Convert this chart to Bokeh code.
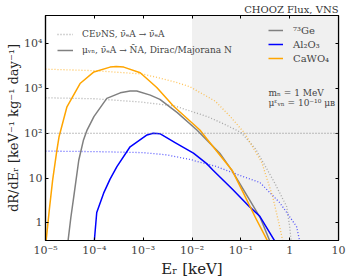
from bokeh.plotting import figure
from bokeh.models import (FixedTicker, LogAxis, BoxAnnotation, Span, Label, Legend,
                          LegendItem, CustomJSTickFormatter)
from bokeh.embed import file_html
from bokeh.resources import INLINE

# ---------------- data ----------------
# magnetic-moment (solid) curves: recoil energy [keV] and rate
E_ge_mu = [2.9e-5, 3.3e-5, 3.8e-5, 4.8e-5, 6.0e-5, 7.1e-5, 9.8e-5, 1.8e-4, 3.4e-4, 5.4e-4, 7.4e-4,
           1.4e-3, 2.2e-3, 5.0e-3, 1.26e-2, 2.0e-2, 3.7e-2, 6.5e-2, 0.15, 0.25, 0.39]
R_ge_mu = [0.4, 1.3, 3.9, 25, 71, 118, 235, 600, 800, 880, 880,
           710, 570, 290, 118, 71, 36, 15, 3.3, 1.3, 0.4]

E_al_mu = [1.0e-4, 1.12e-4, 1.55e-4, 2.1e-4, 2.9e-4, 5.4e-4, 1.2e-3, 1.6e-3, 2.2e-3, 4.5e-3,
           1.07e-2, 2.0e-2, 2.7e-2, 6.9e-2, 0.15, 0.245, 0.49]
R_al_mu = [0.4, 1.7, 4.6, 9.5, 18, 50, 92, 100, 98, 62,
           36, 21, 15, 5.5, 2.3, 1.4, 0.4]

E_ca_mu = [1.03e-5, 1.2e-5, 1.4e-5, 1.7e-5, 1.9e-5, 2.75e-5, 5.1e-5, 9.8e-5, 2.1e-4, 2.8e-4, 4.0e-4,
           8.7e-4, 1.9e-3, 4.2e-3, 1.45e-2, 2.1e-2, 6.6e-2, 0.11, 0.2, 0.35]
R_ca_mu = [0.4, 2.0, 9, 40, 85, 390, 1290, 2340, 3000, 3100, 3000,
           2250, 1050, 400, 118, 71, 15, 4.9, 1.3, 0.4]

# CEvNS (dotted) curves
E_ge_cev = [1e-5, 1e-4, 8.7e-4, 4.5e-3, 2.1e-2, 4.3e-2, 0.1, 0.2, 0.49, 0.87, 1.0, 1.07]
R_ge_cev = [620, 590, 500, 405, 234, 165, 105, 45, 7.9, 2.3, 0.83, 0.4]

E_al_cev = [1e-5, 1e-4, 1e-3, 3e-3, 9.1e-3, 3.2e-2, 9.5e-2, 0.245, 0.63, 1.38, 1.6]
R_al_cev = [40, 39, 37, 33, 26, 18, 11.5, 8, 2.8, 0.83, 0.4]

E_ca_cev = [1e-5, 1e-4, 1e-3, 4.5e-3, 9.1e-3, 3.0e-2, 6.0e-2, 0.12, 0.27, 0.45, 0.6, 0.72]
R_ca_cev = [2700, 2500, 2100, 1400, 1090, 520, 240, 100, 22, 3.8, 1.0, 0.4]

x_ticks = [1e-5, 1e-4, 1e-3, 1e-2, 1e-1, 1, 10]
x_tick_labels = ["10⁻⁵", "10⁻⁴", "10⁻³", "10⁻²", "10⁻¹", "1", "10"]
y_ticks = [1, 10, 100, 1000, 10000]
y_tick_labels = ["1", "10", "10²", "10³", "10⁴"]

materials = ["⁷³Ge", "Al₂O₃", "CaWO₄"]
mat_colors = ["#808080", "#0000ff", "#ffa500"]

# ---------------- figure ----------------
SERIF = "DejaVu Serif"
p = figure(width=349, height=280, x_axis_type="log", y_axis_type="log",
           x_range=(1e-5, 10), y_range=(0.404, 4.26e4),
           output_backend="svg", toolbar_location=None,
           min_border_left=45, min_border_right=11, min_border_top=15, min_border_bottom=39)
p.grid.visible = False
p.outline_line_color = "black"
p.outline_line_width = 1.2
p.background_fill_color = "white"

p.title.text = "CHOOZ Flux, VNS"
p.title.align = "right"
p.title.text_font = SERIF
p.title.text_font_size = "10px"
p.title.text_font_style = "normal"
p.title.text_color = "#333333"
p.title.standoff = 1

p.add_layout(BoxAnnotation(left=1e-2, fill_color="#f0f0f0", fill_alpha=1.0,
                           line_color=None, level="underlay"))
p.add_layout(Span(location=100, dimension="width", line_color="#808080",
                  line_dash="1 2", line_width=1.1))

fmt_code = """
let best = 0, bd = 1e9;
for (let i = 0; i < tks.length; i++) {
  const d = Math.abs(Math.log10(tks[i]) - Math.log10(tick));
  if (d < bd) { bd = d; best = i; }
}
return lbls[best];
"""
xfmt = CustomJSTickFormatter(args=dict(tks=x_ticks, lbls=x_tick_labels), code=fmt_code)
yfmt = CustomJSTickFormatter(args=dict(tks=y_ticks, lbls=y_tick_labels), code=fmt_code)

def style_axis(ax, ticks, fmt, show=True):
    ax.ticker = FixedTicker(ticks=ticks, minor_ticks=[])
    ax.major_tick_in = 3
    ax.major_tick_out = 0
    ax.major_tick_line_color = "black"
    ax.minor_tick_line_color = None
    ax.axis_line_color = "black"
    ax.axis_line_width = 1.2
    ax.formatter = fmt
    ax.major_label_text_font = SERIF
    ax.major_label_text_color = "#444444"
    ax.axis_label_text_font = SERIF
    ax.axis_label_text_font_style = "normal"
    ax.axis_label_text_color = "#222222"
    ax.axis_label_standoff = 0
    if show:
        ax.major_label_text_font_size = "11px"
        ax.major_label_standoff = 3
    else:
        ax.major_label_text_font_size = "1px"
        ax.major_label_text_alpha = 0
        ax.major_label_standoff = 0

style_axis(p.xaxis[0], x_ticks, xfmt)
style_axis(p.yaxis[0], y_ticks, yfmt)
p.xaxis[0].axis_label = "Eᵣ [keV]"
p.xaxis[0].axis_label_text_font_size = "15px"
p.yaxis[0].axis_label = "dR/dEᵣ [keV⁻¹ kg⁻¹ day⁻¹]"
p.yaxis[0].axis_label_text_font_size = "13px"

ra = LogAxis()
style_axis(ra, y_ticks, yfmt, show=False)
p.add_layout(ra, "right")
ta = LogAxis()
style_axis(ta, x_ticks, xfmt, show=False)
p.add_layout(ta, "above")

# CEvNS dotted curves
cev_r = []
for E, R, c in [(E_ge_cev, R_ge_cev, mat_colors[0]), (E_al_cev, R_al_cev, mat_colors[1]),
                (E_ca_cev, R_ca_cev, mat_colors[2])]:
    cev_r.append(p.line(E, R, line_color=c, line_dash="1 2", line_width=1.3,
                        line_alpha=0.65, line_join="round"))

# magnetic moment solid curves
mu_r = []
for E, R, c in [(E_ge_mu, R_ge_mu, mat_colors[0]), (E_al_mu, R_al_mu, mat_colors[1]),
                (E_ca_mu, R_ca_mu, mat_colors[2])]:
    mu_r.append(p.line(E, R, line_color=c, line_width=1.5, line_join="round"))

leg1 = Legend(items=[LegendItem(label="CEνNS, ν̄ₑA → ν̄ₑA", renderers=[cev_r[0]]),
                     LegendItem(label="μᵥₙ, ν̄ₑA → N̄A, Dirac/Majorana N", renderers=[mu_r[0]])],
              location=(12, 183), border_line_color=None, background_fill_alpha=0,
              padding=0, margin=0, spacing=2, glyph_width=16, glyph_height=14,
              label_height=14, label_standoff=9, label_text_font=SERIF,
              label_text_font_size="9px", label_text_color="#444444")
p.add_layout(leg1)

leg2 = Legend(items=[LegendItem(label=m, renderers=[r]) for m, r in zip(materials, mu_r)],
              location=(223, 176), border_line_color=None, background_fill_alpha=0,
              padding=0, margin=0, spacing=2, glyph_width=15, glyph_height=12,
              label_height=12, label_standoff=10, label_text_font=SERIF,
              label_text_font_size="10px", label_text_color="#444444")
p.add_layout(leg2)

def lab(x, y, t, size, color="#444444"):
    p.add_layout(Label(x=x, y=y, x_units="screen", y_units="screen", text=t,
                       text_font=SERIF, text_font_size=size, text_align="left",
                       text_baseline="alphabetic", text_color=color))

# parameter annotation
lab(223, 148, "mₙ = 1 MeV", "9px")
lab(223, 138, "μᵋᵥₙ = 10⁻¹⁰ μʙ", "9px")

open("out.html", "w").write(file_html(p, INLINE))
